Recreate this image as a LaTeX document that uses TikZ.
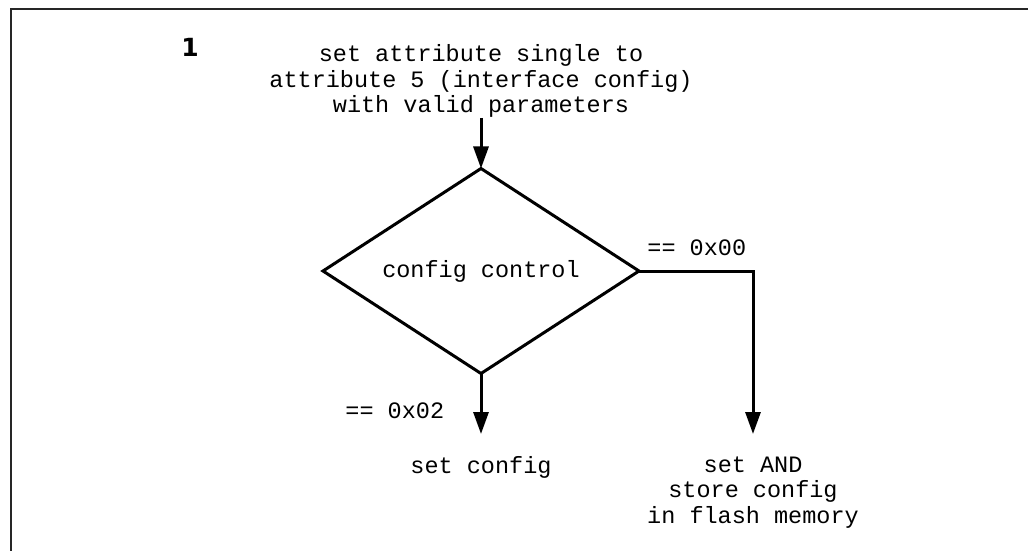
\documentclass[tikz,border=0pt]{standalone}
\usepackage{fontspec}
\setmonofont{Liberation Mono}
\newfontfamily\numfont{DejaVu Sans}
\usetikzlibrary{arrows.meta,shapes.geometric}

\tikzset{
  flow/.style={line width=1.5pt,-{Triangle[length=11pt,width=7.5pt]}},
  ttlabel/.style={font=\ttfamily\fontsize{11.75}{12.75}\selectfont,align=center,inner sep=0pt},
  outcome/.style={ttlabel,anchor=north,inner ysep=11pt},
  decision/.style={draw,diamond,aspect=1.54,line width=1.5pt,minimum width=158pt,minimum height=102.5pt,
    inner sep=0pt,outer sep=0pt,font=\ttfamily\fontsize{11.75}{12.75}\selectfont},
}

\begin{document}
\begin{tikzpicture}[x=0.5pt,y=-0.5pt]
\useasboundingbox (0,0) rectangle (1028,551);
% Drawing frame
\draw[line width=1pt,color=black!85] (1032,9) -- (10.5,9) -- (10.5,555);
% Step number
\node[font=\numfont\bfseries\fontsize{12.5}{15}\selectfont,inner sep=0pt] (num) at (190,47) {1};
% Done with frame; drawing nodes
\node[ttlabel,anchor=south] (start) at (481,118) {set attribute single to\\attribute 5 (interface config)\\with valid parameters};
\node[decision] (ctrl) at (481,271) {config control};
\node[outcome] (setcfg) at (481,434) {set config};
\node[outcome] (storecfg) at (753,434) {set AND\\store config\\in flash memory};
% Done with nodes; drawing connectors
\draw[flow] (start.south) -- (ctrl.north);
\draw[flow] (ctrl.south) -- (setcfg.north);
\draw[flow] (ctrl.east) -| (storecfg.north);
% Branch labels
\node[ttlabel,anchor=west] (val00) at (647,248) {== 0x00};
\node[ttlabel,anchor=west] (val02) at (345,411) {== 0x02};
\end{tikzpicture}
\end{document}
